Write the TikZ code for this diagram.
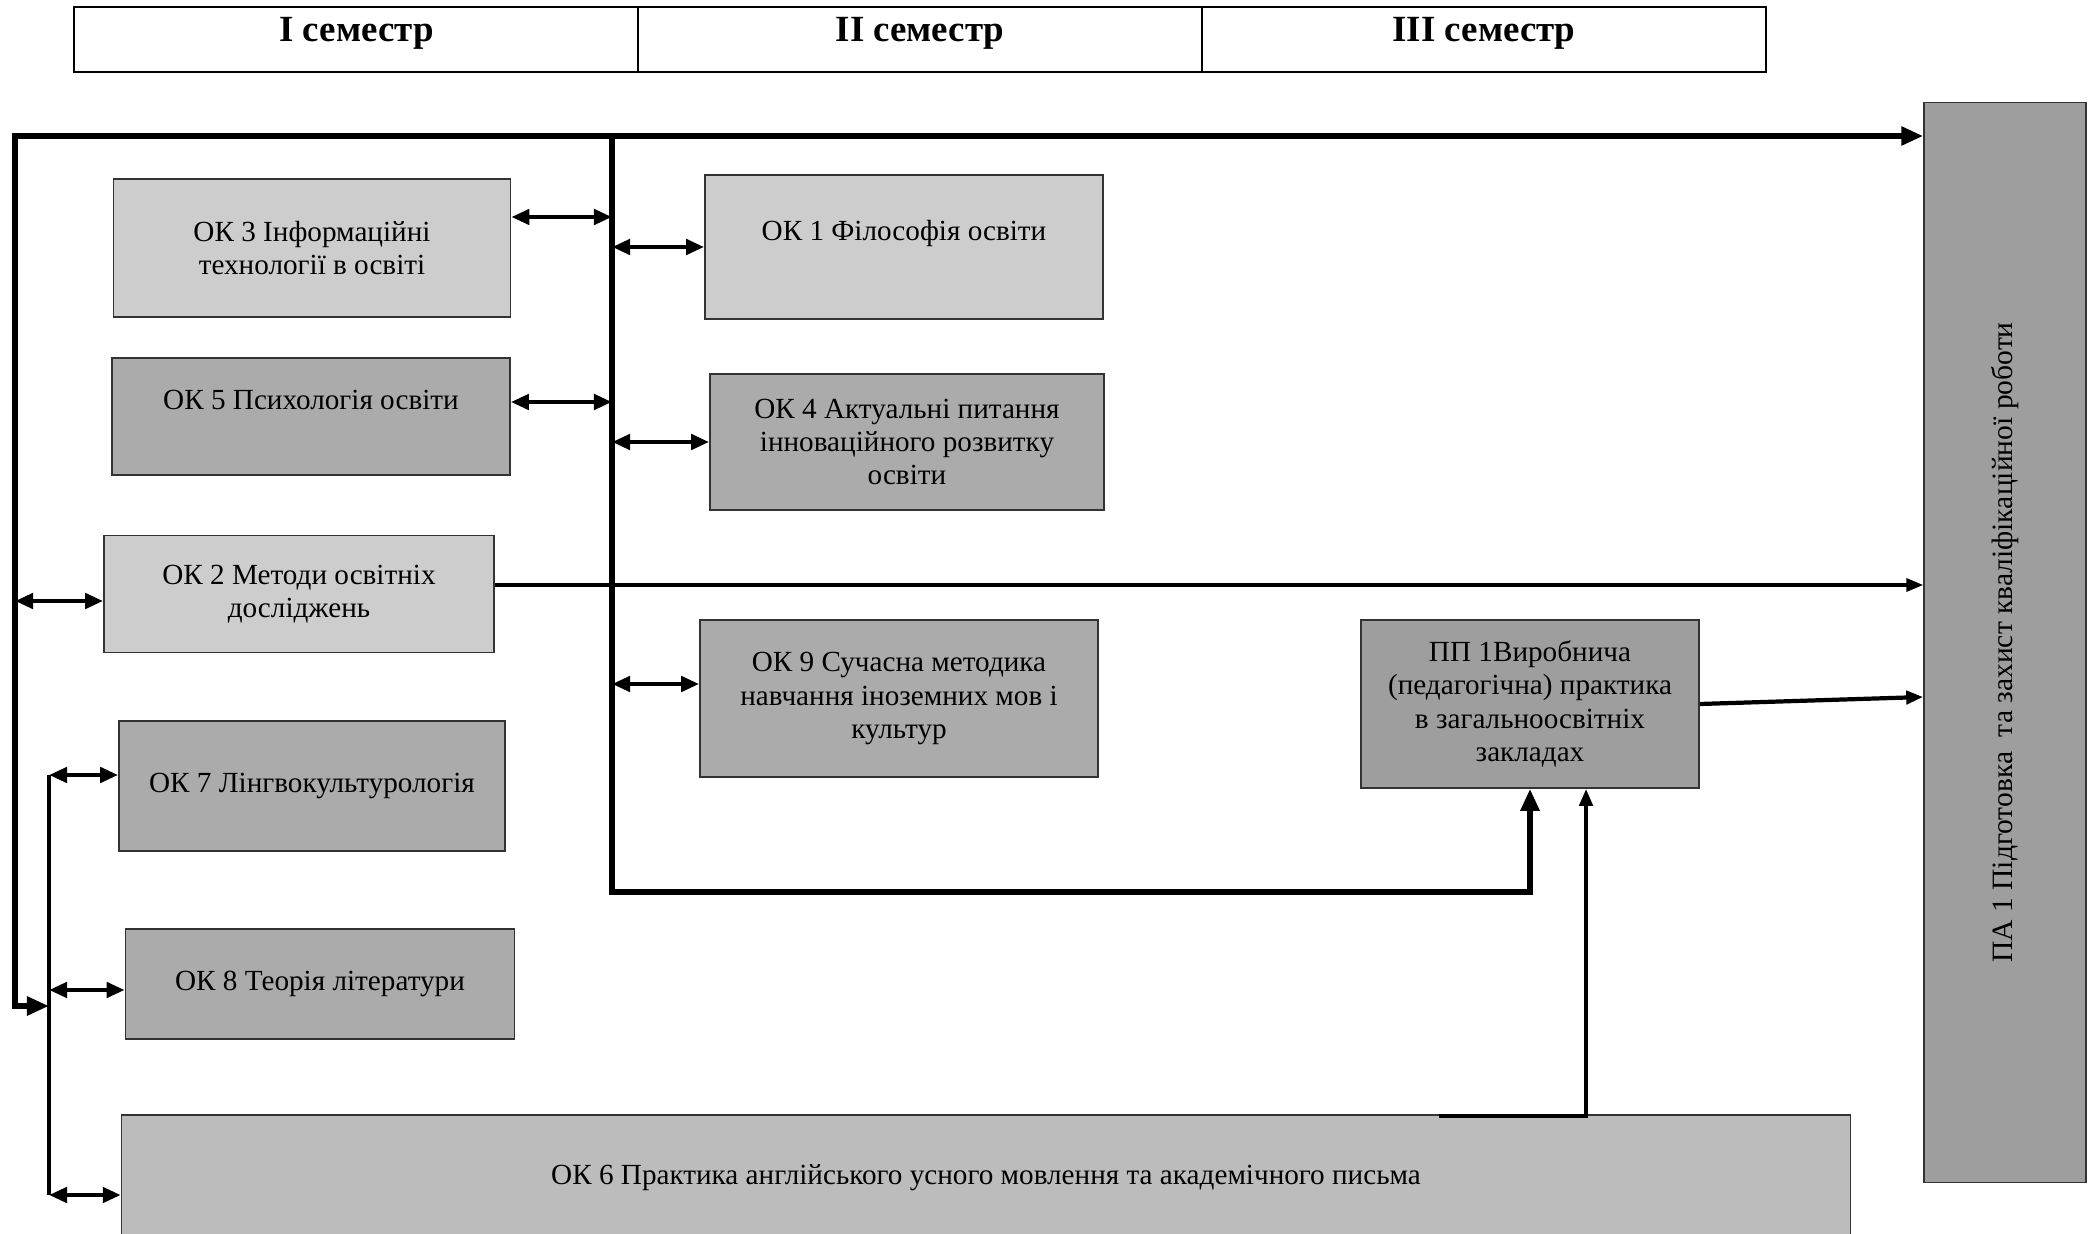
\documentclass[tikz,border=0pt]{standalone}
\usepackage{fontspec}
\setmainfont{Liberation Serif}
\usetikzlibrary{arrows.meta}
\definecolor{palebox}{HTML}{CDCDCD}
\definecolor{midbox}{HTML}{ABABAB}
\definecolor{deepbox}{HTML}{9E9E9E}
\definecolor{widebox}{HTML}{BCBCBC}
\tikzstyle{semester} = [rectangle, draw=black, line width=0.5pt, fill=white, minimum width=5.64cm, minimum height=0.65cm, inner sep=0pt, text height=0.31cm, text depth=0.26cm, font=\fontsize{10.5}{12}\selectfont\bfseries]
\tikzstyle{course} = [rectangle, draw=black!80, line width=0.4pt, align=center, inner sep=2pt, fill=palebox, font=\fontsize{8.3}{9.5}\selectfont]
\tikzstyle{darkcourse} = [course, fill=midbox]
\tikzstyle{raised} = [text height=0.2cm, text depth=0.33cm]
\tikzstyle{trunk} = [line width=1.8pt, >={Triangle[length=0.22cm, width=0.18cm]}]
\tikzstyle{link} = [line width=1.3pt, <->, >={Triangle[length=0.18cm, width=0.15cm]}]
\tikzstyle{flow} = [line width=1pt, ->, >={Triangle[length=0.17cm, width=0.13cm]}]

\begin{document}
\begin{tikzpicture}[x=0.01cm, y=0.01cm, yscale=-1]
\useasboundingbox (0,0) rectangle (2094,1234);

% semester header
\node at (356.5,39.5) (sem1) [semester] {I семестр};
\node at (920,39.5) (sem2) [semester] {II семестр};
\node at (1484,39.5) (sem3) [semester] {III семестр};

% disciplines
\node at (312,248) (ok3) [course, minimum width=3.97cm, minimum height=1.38cm] {ОК 3 Інформаційні\\технології в освіті};
\node at (904,247) (ok1) [course, raised, minimum width=3.98cm, minimum height=1.44cm] {ОК 1 Філософія освіти};
\node at (311,416.5) (ok5) [darkcourse, raised, minimum width=3.98cm, minimum height=1.17cm] {ОК 5 Психологія освіти};
\node at (907,442) (ok4) [darkcourse, minimum width=3.94cm, minimum height=1.36cm] {ОК 4 Актуальні питання\\інноваційного розвитку\\освіти};
\node at (299,594) (ok2) [course, minimum width=3.9cm, minimum height=1.17cm] {ОК 2 Методи освітніх\\досліджень};
\node at (899,698.5) (ok9) [darkcourse, minimum width=3.98cm, minimum height=1.57cm] {ОК 9 Сучасна методика\\навчання іноземних мов і\\культур};
\node at (1530,704) (pp1) [darkcourse, fill=deepbox, minimum width=3.38cm, minimum height=1.68cm] {ПП 1Виробнича\\(педагогічна) практика\\в загальноосвітніх\\закладах};
\node at (312,786) (ok7) [darkcourse, minimum width=3.86cm, minimum height=1.3cm] {ОК 7 Лінгвокультурологія};
\node at (320,984) (ok8) [darkcourse, minimum width=3.89cm, minimum height=1.1cm] {ОК 8 Теорія літератури};
\node at (986,1178) (ok6) [darkcourse, fill=widebox, minimum width=17.28cm, minimum height=1.26cm] {ОК 6 Практика англійського усного мовлення та академічного письма};
\node at (2005,642.5) (pa1) [darkcourse, fill=deepbox, minimum width=1.62cm, minimum height=10.79cm] {};
\node at (pa1.center) (pa1text) [rotate=90, font=\fontsize{8.4}{10}\selectfont] {ПА 1 Підготовка\ \ та захист кваліфікаційної роботи};

% trunks
\coordinate (corner) at (15,136);
\coordinate (hub) at (612,136);
\coordinate (subtop) at (49,775);
\coordinate (subbot) at (49,1195);
\coordinate (ok6out) at (1439,1116);

\draw[trunk,<->] (subtop |- 0,1006) -| (corner) -- (corner -| pa1.west);
\draw[trunk,->] (hub) -- (hub |- 0,892) -| (pp1.south);
\draw[line width=1.4pt] (subtop) -- (subbot);

% links to the trunks
\draw[link] (ok3.east |- 0,217) -- (hub |- 0,217);
\draw[link] (hub |- ok1.west) -- (ok1.west);
\draw[link] (ok5.east |- 0,402) -- (hub |- 0,402);
\draw[link] (hub |- ok4.west) -- (ok4.west);
\draw[link] (hub |- 0,684) -- (ok9.west |- 0,684);
\draw[link] (corner |- 0,601) -- (ok2.west |- 0,601);
\draw[link] (subtop) -- (ok7.west |- subtop);
\draw[link] (subtop |- 0,990) -- (ok8.west |- 0,990);
\draw[link] (subbot) -- (ok6.west |- subbot);

% flows into the final attestation
\draw[flow] (ok2.east |- 0,585) -- (pa1.west |- 0,585);
\draw[flow, line width=1.2pt] (pp1.east) -- (pa1.west |- 0,697);
\draw[flow, line width=1.2pt] (ok6out) -| ([xshift=0.56cm]pp1.south);

\end{tikzpicture}
\end{document}
